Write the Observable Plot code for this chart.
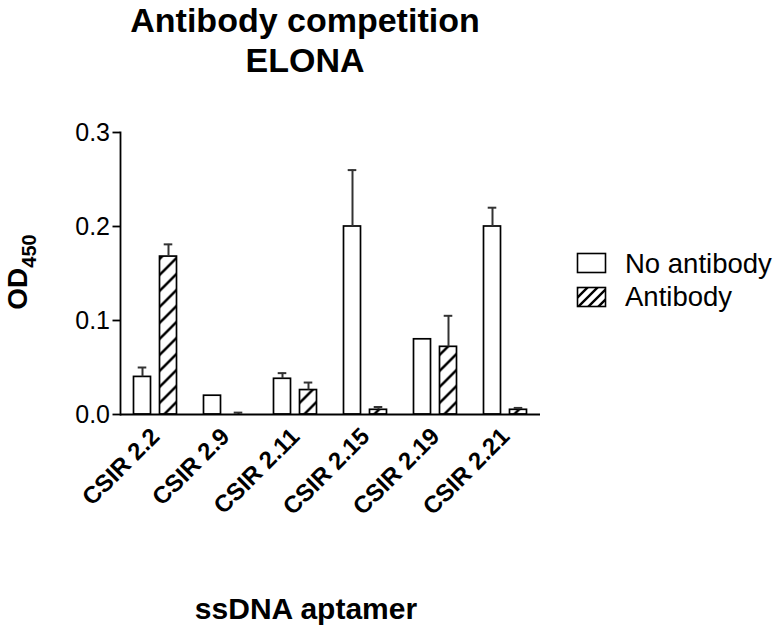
<!DOCTYPE html>
<html>
<head>
<meta charset="utf-8">
<script src="https://cdn.jsdelivr.net/npm/d3@7"></script>
<script src="https://cdn.jsdelivr.net/npm/@observablehq/plot@0.6"></script>
<style>
  html, body { margin: 0; padding: 0; background: #fff; }
  #wrap { position: relative; width: 784px; height: 633px; overflow: hidden; font-family: "Liberation Sans", Arial, sans-serif; color: #000; }
  #chart { position: absolute; left: 0; top: 0; }
  .title { position: absolute; left: 105px; width: 400px; top: 0; text-align: center; font-size: 34px; font-weight: bold; line-height: 40px; white-space: nowrap; }
  .xtitle { position: absolute; left: 106px; width: 400px; text-align: center; font-size: 30px; font-weight: bold; white-space: nowrap; }
  g[aria-label="fx-axis tick label"] text { font-weight: bold; }
</style>
</head>
<body>
<div id="wrap">
  <div class="title">Antibody competition<br>ELONA</div>
  <div id="chart"></div>
  <div class="xtitle" style="top:592px">ssDNA aptamer</div>
  <svg width="50" height="633" style="position:absolute;left:0;top:0">
    <text transform="translate(27,272) rotate(-90)" text-anchor="middle" font-family="Liberation Sans, Arial, sans-serif" font-weight="bold" font-size="28">OD<tspan font-size="20" dy="9">450</tspan></text>
  </svg>
  <svg width="210" height="80" style="position:absolute;left:570px;top:245px">
    <defs>
      <pattern id="lhatch" patternUnits="userSpaceOnUse" width="10" height="10">
        <rect width="10" height="10" fill="#fff"/>
        <path d="M-3,3 L3,-3 M0,10 L10,0 M7,13 L13,7" stroke="#000" stroke-width="2.4"/>
      </pattern>
    </defs>
    <rect x="7.5" y="8.5" width="28" height="19" fill="#fff" stroke="#000" stroke-width="1.6"/>
    <rect x="7.5" y="42.5" width="28" height="19" fill="url(#lhatch)" stroke="#000" stroke-width="1.6"/>
    <text x="55" y="28" font-family="Liberation Sans, Arial, sans-serif" font-size="27.5">No antibody</text>
    <text x="55" y="61" font-family="Liberation Sans, Arial, sans-serif" font-size="27.5">Antibody</text>
  </svg>
</div>
<script>
const groups = ["CSIR 2.2", "CSIR 2.9", "CSIR 2.11", "CSIR 2.15", "CSIR 2.19", "CSIR 2.21"];
const series = ["No antibody", "Antibody"];
const noAntibody = [0.040, 0.020, 0.038, 0.200, 0.080, 0.200];
const noAntibodyErr = [0.010, 0, 0.006, 0.060, 0, 0.020];
const antibody = [0.168, 0.000, 0.026, 0.005, 0.072, 0.005];
const antibodyErr = [0.013, 0.002, 0.008, 0.003, 0.033, 0.002];
const yTicks = [0, 0.1, 0.2, 0.3];

const data = [];
groups.forEach((g, i) => {
  data.push({group: g, series: series[0], value: noAntibody[i], err: noAntibodyErr[i]});
  data.push({group: g, series: series[1], value: antibody[i], err: antibodyErr[i]});
});
const errData = data.filter(d => d.err > 0).map(d => ({...d, hi: d.value + d.err}));

const plot = Plot.plot({
  width: 784,
  height: 633,
  marginLeft: 117.5,
  marginRight: 242.3,
  marginTop: 132,
  marginBottom: 219,
  style: {fontFamily: "Liberation Sans, Arial, sans-serif", color: "#000", background: "transparent"},
  fx: {domain: groups, padding: 0, label: null},
  x: {domain: series, paddingInner: 0.34, paddingOuter: 0.5, axis: null},
  y: {domain: [0, 0.3], axis: null},
  marks: [
    Plot.barY(data.filter(d => d.series === series[0]), {fx: "group", x: "series", y: "value", fill: "#fff", stroke: "#000", strokeWidth: 1.7}),
    Plot.barY(data.filter(d => d.series === series[1]), {fx: "group", x: "series", y: "value", fill: "url(#hatch)", stroke: "#000", strokeWidth: 1.7}),
    Plot.ruleX(errData, {fx: "group", x: "series", y1: "value", y2: "hi", stroke: "#333", strokeWidth: 2}),
    Plot.tickY(errData, {fx: "group", x: "series", y: "hi", stroke: "#333", strokeWidth: 2, insetLeft: 4.2, insetRight: 4.2}),
    Plot.ruleY([0], {stroke: "#000", strokeWidth: 1.8}),
    Plot.axisY({ticks: yTicks, tickFormat: d3.format(".1f"), tickSize: 7.5, tickPadding: 3, fontSize: 25, stroke: "#000", strokeWidth: 1.8, label: null}),
    Plot.frame({anchor: "left", facetAnchor: "left", stroke: "#000", strokeWidth: 1.8}),
    Plot.axisFx({anchor: "bottom", tickRotate: -45, tickSize: 0, tickPadding: 18, fontSize: 24, label: null})
  ]
});

const ns = "http://www.w3.org/2000/svg";
const defs = document.createElementNS(ns, "defs");
defs.innerHTML = '<pattern id="hatch" patternUnits="userSpaceOnUse" width="16" height="16">' +
  '<rect width="16" height="16" fill="#fff"/>' +
  '<path d="M-4,4 L4,-4 M0,16 L16,0 M12,20 L20,12" stroke="#000" stroke-width="2.6"/></pattern>';
plot.insertBefore(defs, plot.firstChild);
document.getElementById("chart").appendChild(plot);
</script>
</body>
</html>
